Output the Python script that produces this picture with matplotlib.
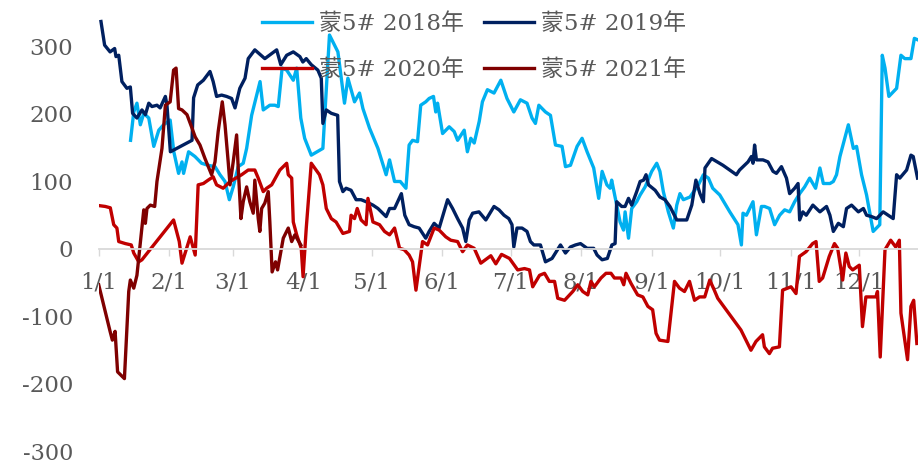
import matplotlib
matplotlib.use("Agg")
import matplotlib.pyplot as plt

plt.rcParams['font.family'] = ['DejaVu Serif', 'Noto Sans CJK SC']

# ---------------- data (x = day of year, 0 = 1/1) ----------------
month_ticks = [0, 31, 59, 90, 120, 151, 181, 212, 243, 273, 304, 334]
month_labels = ['1/1', '2/1', '3/1', '4/1', '5/1', '6/1', '7/1', '8/1', '9/1', '10/1', '11/1', '12/1']
y_ticks = [-300, -200, -100, 0, 100, 200, 300]
y_labels = ['-300', '-200', '-100', '0', '100', '200', '300']
series_names = ['蒙5# 2018年', '蒙5# 2019年', '蒙5# 2020年', '蒙5# 2021年']

d2018 = [14, 15.4, 16.8, 18.3, 19.8, 22, 24.2, 26.4, 28.5, 31.4, 33, 35.1, 36.6, 37.3, 39.5,
         42.3, 45.2, 48.1, 51.1, 53.3, 55.5, 57.4, 59.1, 61.3, 63.5, 65, 67.2, 70.9, 72.3, 75.2,
         77.4, 78.9, 80.6, 82.6, 85.5, 87, 88.8, 90.5, 93.4, 98.5, 101.4, 105.1, 108, 109.5, 112.4,
         114.6, 116.1, 119, 122.7, 126.3, 127.8, 130, 132.5, 135, 136.4, 137.9, 140.1, 141.5, 143.7,
         145.2, 147.1, 148.1, 148.9, 151.1, 154, 156.2, 157.7, 160.6, 162, 163.5, 165, 167.2, 168.6,
         170.8, 173.7, 176.7, 179.4, 182.4, 185.3, 188.2, 190.4, 191.9, 193.4, 196.3, 198.5, 200.7,
         203.6, 205.1, 207.3, 210.2, 212.4, 214.6, 217.5, 219.7, 221.2, 223.3, 224.7, 225.4, 226.9,
         229.1, 230.6, 231.3, 232.8, 234.2, 236.4, 237.9, 240.1, 243, 245.2, 246.6, 248.1, 250.3,
         252.5, 254, 255.4, 256.9, 259.8, 263.5, 265.7, 267.9, 269.8, 272.9, 277.3, 280.9, 282.4,
         283.1, 284.6, 287.5, 289, 291.2, 292.6, 294.8, 297, 299.2, 301.4, 303.6, 305.8, 308, 310.2,
         312.4, 315, 316.9, 318.4, 321.3, 322.8, 324.2, 325.7, 329.4, 331.6, 333, 335.2, 337.4,
         340.3, 343.2, 344.3, 345.5, 347.2, 350.6, 352.5, 354.2, 356.9, 358.4, 359.8]
v2018 = [161, 203, 216, 184, 201, 194, 152, 176, 184, 191, 144, 112, 129, 112, 144,
         137, 127, 124, 122, 110, 100, 73, 92, 122, 127, 149, 198, 248, 206, 213,
         213, 211, 268, 265, 250, 268, 194, 164, 139, 149, 317, 292, 216, 253, 218,
         231, 208, 179, 149, 110, 132, 100, 100, 90, 154, 161, 159, 213, 218,
         223, 226, 203, 216, 171, 181, 174, 161, 176, 144, 164, 157, 189, 218,
         236, 231, 250, 223, 203, 221, 216, 194, 186, 213, 203, 198, 154,
         152, 122, 124, 152, 164, 144, 120, 75, 115, 95, 90, 102, 77,
         40, 28, 55, 16, 60, 70, 80, 92, 115, 127, 115, 85, 55,
         31, 65, 82, 73, 77, 95, 110, 105, 90, 80, 55, 36, 6,
         53, 50, 70, 21, 63, 63, 60, 36, 50, 58, 55, 70, 82, 92,
         105, 90, 120, 97, 97, 100, 110, 137, 184, 149, 152, 110, 80,
         26, 36, 287, 268, 226, 238, 287, 282, 282, 312, 310]

d2019 = [1, 2.6, 5, 7, 7.6, 8.8, 10.2, 12.4, 13.9, 14.9, 16.8, 19, 20.5, 22, 23.4, 25.6, 27,
         29.3, 30, 31.5, 41, 41.7, 43.5, 46, 48.9, 50.3, 51.8, 54, 56.2, 58.4, 59.9, 62, 64.3,
         65.7, 68.6, 73, 78.2, 80, 82.6, 85.5, 88.4, 89.7, 91.2, 93.4, 96.3, 97.8, 98.5, 100,
         102.2, 105, 105.8, 107.3, 108.7, 110.9, 113.1, 115.3, 117.5, 120.5, 122.7, 126.3, 127.8,
         130, 133, 134.5, 136.4, 138.6, 140.8, 143.7, 145.2, 147.4, 149.6, 153.3, 155.5, 157.7,
         159.9, 161.3, 162.8, 164.3, 167.1, 170.1, 173.7, 175.9, 178.1, 180.2, 181.6, 182.4,
         183.8, 186, 188.2, 189.7, 191.2, 194.1, 196.3, 199.2, 202.9, 205.1, 207.3, 209.5,
         211.7, 214.6, 217.5, 219, 221.2, 223.5, 225.5, 226.9, 227.6, 229.8, 231.3, 232.8,
         234.2, 236.4, 237.9, 239.4, 240.5, 241.6, 244.5, 246.6, 248.8, 251, 254, 256.2, 258.4,
         260.6, 262.4, 264.2, 265.7, 266.4, 269.3, 274.3, 280.2, 281.6, 285.3, 286.8, 287.5,
         288.2, 289, 291.9, 294.1, 296.3, 297.8, 300, 302.2, 303.6, 305.8, 307.3, 308, 309.4,
         310.9, 313.8, 316.9, 319.8, 321.3, 322.8, 325, 327.2, 328.6, 330.8, 333.8, 336, 337.4,
         339.6, 341.8, 344.7, 346.9, 349.1, 350.6, 352, 355, 356.9, 357.9, 359.8]
v2019 = [337, 302, 292, 297, 285, 287, 248, 238, 240, 201, 194, 206, 199, 216, 211, 213, 209,
         226, 213, 144, 161, 224, 243, 250, 263, 248, 226, 228, 226, 223, 209, 238, 253,
         282, 295, 282, 295, 273, 287, 292, 285, 277, 282, 273, 265, 253, 186, 206,
         201, 198, 100, 85, 90, 87, 73, 73, 70, 65, 60, 48, 60,
         60, 82, 50, 36, 33, 31, 16, 26, 38, 31, 73, 60, 45,
         31, 11, 43, 53, 55, 43, 63, 58, 50, 45, 36, 3,
         31, 31, 26, 11, 6, 6, -19, -14, 6, -6, 3, 6,
         8, 1, 1, -9, -16, -14, 6, 8, 70, 63, 63, 75,
         65, 85, 100, 102, 110, 95, 87, 77, 73, 63, 43, 43, 43,
         65, 102, 82, 70, 120, 134, 124, 110, 117, 129, 137, 127,
         154, 132, 132, 129, 115, 112, 122, 105, 82, 90, 97, 43, 55,
         50, 65, 55, 63, 50, 26, 38, 33, 60, 65, 55, 60, 50,
         48, 45, 55, 50, 45, 110, 105, 117, 139, 137, 105]

d2020 = [0.7, 2.9, 5.1, 6.6, 8, 8.8, 11.7, 14.3, 15.4, 17.6, 19, 32.9, 35.4, 36.6, 40.2, 42.4,
         43.7, 46, 48.1, 50.3, 51.8, 54.7, 57.7, 62.8, 65.7, 68.6, 70.1, 72.3, 73.8, 76, 79.6,
         82.6, 83.3, 84.8, 85.5, 87, 89, 89.8, 91.2, 93.4, 97, 98.5, 100, 102.2, 104.3, 107.3,
         110.2, 110.9, 112.4, 113.6, 115.3, 117.5, 118.3, 120.5, 123.4, 125.6, 127.8, 130, 132.2,
         134.2, 136.4, 137.9, 139.4, 142.3, 144.5, 145.9, 147.4, 149.6, 152.5, 154.7, 157.7,
         159.9, 162, 165, 167.9, 172.3, 174.5, 177, 180.5, 184.1, 187.1, 189.3, 190.7, 193.7,
         195.9, 198, 200.3, 201.7, 204.7, 208.3, 210.5, 212.7, 214.9, 216.3, 217.8, 220.7, 222.9,
         225.1, 226.6, 229.5, 230.7, 231.7, 233.9, 236.8, 239.1, 241.3, 243.4, 244.9, 246.4,
         250.1, 253, 255.2, 257.4, 259.6, 261.8, 264, 266.3, 268.5, 270.5, 272, 282.2, 286.6,
         288.8, 291.7, 292.5, 294.7, 296.1, 299.1, 300.5, 304.2, 306.4, 307.9, 310.8, 313.7,
         315.2, 316.6, 318.1, 321, 323.3, 324.7, 326.9, 328.3, 329.8, 331.3, 334.2, 335.6, 337.1,
         341.5, 342.2, 343.4, 345.5, 348, 350.2, 351.8, 352.5, 355.4, 356.9, 358.1, 359.5]
v2020 = [64, 63, 61, 36, 31, 11, 8, 6, -6, -19, -16, 43, 11, -21, 18, -9,
         95, 97, 102, 107, 95, 90, 100, 110, 117, 117, 105, 85, 90, 95, 117,
         127, 110, 105, 40, 21, 1, -41, 31, 127, 110, 95, 60, 45, 40, 23,
         26, 50, 45, 60, 43, 36, 75, 40, 36, 26, 21, 31, 1,
         -1, -9, -19, -61, 11, 6, 18, 31, 28, 18, 13, 11,
         -4, 6, 1, -21, -10, -22, -8, -14, -31, -29, -31, -56, -39,
         -36, -48, -48, -73, -76, -63, -53, -63, -68, -48, -56, -43, -36,
         -36, -43, -43, -53, -36, -51, -68, -71, -85, -90, -125, -135,
         -137, -48, -58, -63, -48, -76, -71, -71, -46, -61, -73, -120, -150,
         -137, -127, -145, -155, -147, -145, -61, -56, -66, -11, -4, 8,
         11, -48, -43, -11, 8, 1, -46, -6, -26, -31, -24, -115, -71,
         -71, -63, -160, -1, 13, 3, 13, -95, -164, -85, -76, -140]

d2021 = [0, 5, 6, 7.2, 8.3, 11.3, 13.2, 13.9, 15.4, 16.8, 19.8, 20.5, 21.2, 22.7, 24.6, 25.6,
         27.8, 29.3, 31.4, 32.9, 34, 35.1, 36.6, 38.8, 41, 42.4, 44.5, 46.7, 49.6, 51.1, 52.5,
         54.3, 55.5, 56.9, 57.7, 59.1, 60.6, 61.3, 62.5, 63.5, 65, 66.4, 67.9, 68.6, 70.1, 70.8,
         71.6, 73, 74.5, 75.2, 76.2, 77.7, 78.6, 81.1, 83.3, 84.8, 86.2, 88.8]
v2021 = [-53, -122, -135, -122, -182, -192, -63, -46, -58, -39, 58, 38, 60, 65, 63, 100,
         149, 213, 218, 265, 268, 208, 206, 199, 179, 166, 154, 134, 110, 129, 174,
         218, 184, 129, 95, 129, 169, 120, 45, 70, 92, 70, 53, 102, 45, 26,
         60, 68, 85, 40, -34, -19, -31, 16, 31, 11, 21, 6]

colors = ['#00B0F0', '#002060', '#C00000', '#7F0000']
gray = '#595959'

# ---------------- figure ----------------
fig = plt.figure(figsize=(9.18, 4.62), dpi=100)
ax = fig.add_axes([98.7 / 918, 10.5 / 462, 819.3 / 918, 451.6 / 462])
ax.set_xlim(0, 360)
ax.set_ylim(-300, 369)

lw = 2.4
handles = []
for d, v, c, n in zip([d2018, d2019, d2020, d2021], [v2018, v2019, v2020, v2021], colors, series_names):
    assert len(d) == len(v), n
    h, = ax.plot(d, v, color=c, lw=lw, label=n, solid_joinstyle='round')
    handles.append(h)

for s in ['left', 'right', 'top']:
    ax.spines[s].set_visible(False)
ax.spines['bottom'].set_position(('data', 0))
ax.spines['bottom'].set_color('#D9D9D9')
ax.spines['bottom'].set_linewidth(1.3)

ax.set_xticks(month_ticks)
ax.set_xticklabels(month_labels)
ax.tick_params(axis='x', direction='out', length=5, width=1.0, color='#D9D9D9',
               labelsize=16.5, labelcolor=gray, pad=11)
ax.set_yticks(y_ticks)
ax.set_yticklabels(y_labels)
ax.tick_params(axis='y', length=0, labelsize=16.5, labelcolor=gray, pad=18.5)
for lab in ax.get_yticklabels():
    if lab.get_text() == '-300':
        lab.set_fontsize(16)

order = [handles[0], handles[2], handles[1], handles[3]]
leg = fig.legend(order, [h.get_label() for h in order], loc='upper left',
                 bbox_to_anchor=(262 / 918, 1 - 13 / 462), ncol=2, frameon=False,
                 borderpad=0, borderaxespad=0, handlelength=2.2, handletextpad=0.3,
                 columnspacing=0.85, labelspacing=1.05, fontsize=16.5, labelcolor=gray)

fig.savefig('out.png', dpi=100)
